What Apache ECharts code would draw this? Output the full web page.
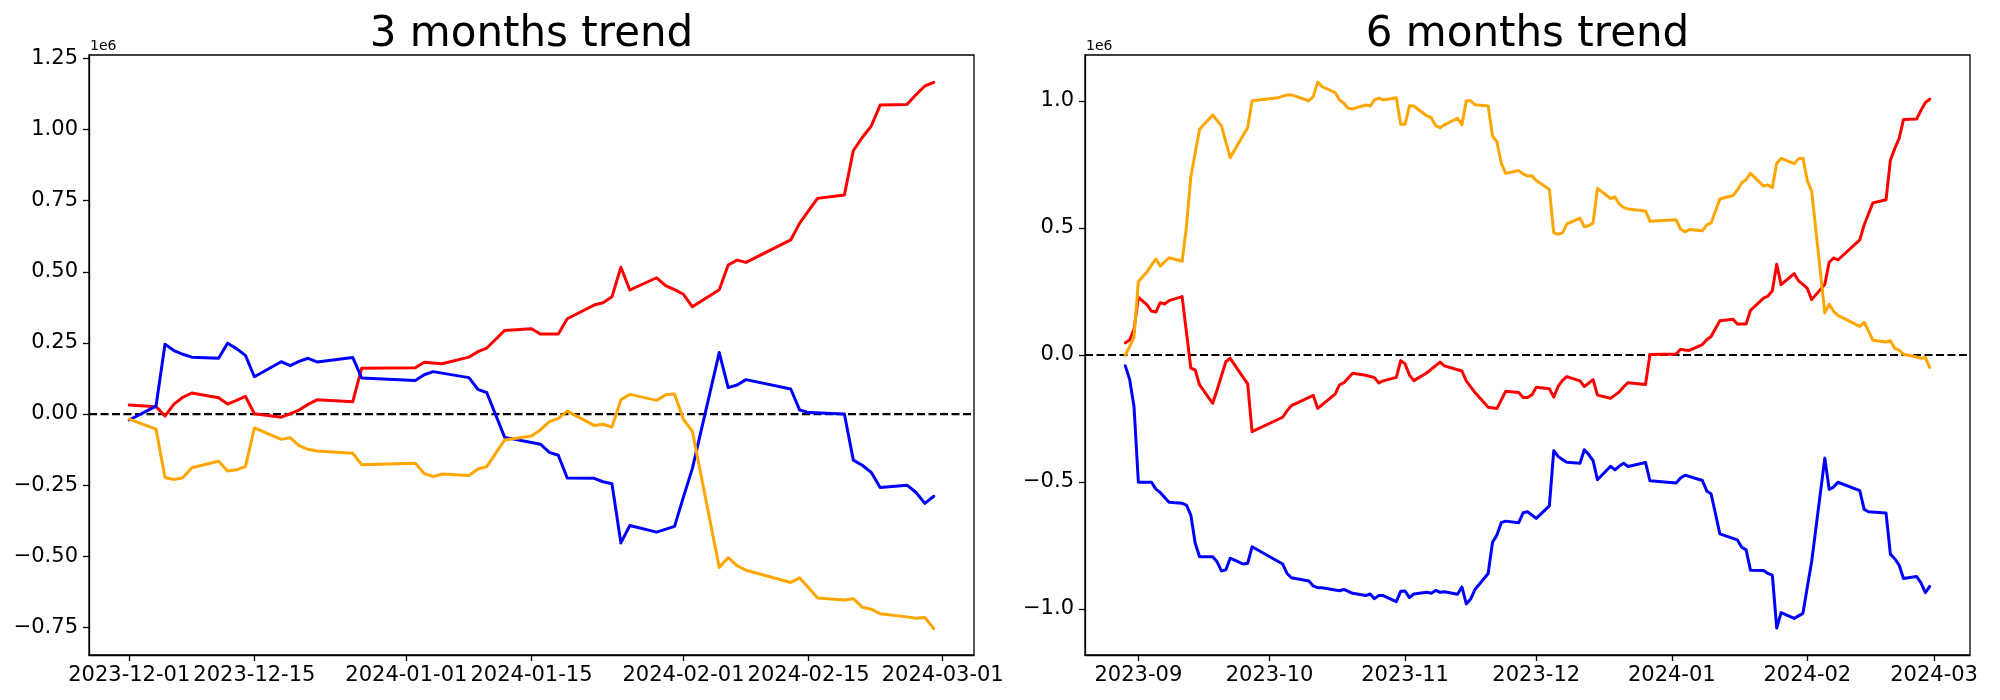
<!DOCTYPE html>
<html>
<head>
<meta charset="utf-8">
<script src="https://cdn.jsdelivr.net/npm/echarts@6/dist/echarts.min.js"></script>
<style>
html,body{margin:0;padding:0;background:#fff;}
#chart{width:2000px;height:700px;}
</style>
</head>
<body>
<div id="chart"></div>
<script>
// Values are in units of 1e6 (matching the "1e6" axis offset label)
const titles = ['3 months trend', '6 months trend'];
const offsetLabel = '1e6';

// ---- 3 months panel ----
const red3 = [['2023-12-01',0.032],['2023-12-04',0.026],['2023-12-05',-0.007],['2023-12-06',0.035],['2023-12-07',0.059],['2023-12-08',0.074],['2023-12-11',0.057],['2023-12-12',0.035],['2023-12-13',0.048],['2023-12-14',0.062],['2023-12-15',0.001],['2023-12-18',-0.011],['2023-12-19',0.001],['2023-12-20',0.014],['2023-12-21',0.034],['2023-12-22',0.050],['2023-12-26',0.043],['2023-12-27',0.161],['2024-01-02',0.163],['2024-01-03',0.182],['2024-01-04',0.179],['2024-01-05',0.177],['2024-01-08',0.200],['2024-01-09',0.219],['2024-01-10',0.232],['2024-01-11',0.263],['2024-01-12',0.294],['2024-01-15',0.300],['2024-01-16',0.281],['2024-01-18',0.281],['2024-01-19',0.335],['2024-01-22',0.383],['2024-01-23',0.391],['2024-01-24',0.412],['2024-01-25',0.516],['2024-01-26',0.436],['2024-01-29',0.479],['2024-01-30',0.451],['2024-01-31',0.437],['2024-02-01',0.421],['2024-02-02',0.377],['2024-02-05',0.437],['2024-02-06',0.524],['2024-02-07',0.541],['2024-02-08',0.533],['2024-02-13',0.612],['2024-02-14',0.671],['2024-02-15',0.715],['2024-02-16',0.758],['2024-02-19',0.770],['2024-02-20',0.926],['2024-02-21',0.972],['2024-02-22',1.012],['2024-02-23',1.086],['2024-02-26',1.088],['2024-02-27',1.122],['2024-02-28',1.153],['2024-02-29',1.166]];

const blue3 = [['2023-12-01',-0.021],['2023-12-04',0.028],['2023-12-05',0.245],['2023-12-06',0.223],['2023-12-07',0.210],['2023-12-08',0.200],['2023-12-11',0.196],['2023-12-12',0.249],['2023-12-13',0.230],['2023-12-14',0.206],['2023-12-15',0.131],['2023-12-18',0.184],['2023-12-19',0.170],['2023-12-20',0.185],['2023-12-21',0.196],['2023-12-22',0.183],['2023-12-26',0.199],['2023-12-27',0.127],['2024-01-02',0.118],['2024-01-03',0.138],['2024-01-04',0.149],['2024-01-08',0.128],['2024-01-09',0.087],['2024-01-10',0.075],['2024-01-12',-0.082],['2024-01-15',-0.100],['2024-01-16',-0.106],['2024-01-17',-0.135],['2024-01-18',-0.145],['2024-01-19',-0.225],['2024-01-22',-0.226],['2024-01-23',-0.238],['2024-01-24',-0.245],['2024-01-25',-0.453],['2024-01-26',-0.392],['2024-01-29',-0.415],['2024-01-31',-0.395],['2024-02-01',-0.291],['2024-02-02',-0.191],['2024-02-05',0.216],['2024-02-06',0.093],['2024-02-07',0.102],['2024-02-08',0.121],['2024-02-13',0.088],['2024-02-14',0.014],['2024-02-15',0.005],['2024-02-19',0.000],['2024-02-20',-0.162],['2024-02-21',-0.180],['2024-02-22',-0.205],['2024-02-23',-0.258],['2024-02-26',-0.250],['2024-02-27',-0.275],['2024-02-28',-0.314],['2024-02-29',-0.289]];

const orange3 = [['2023-12-01',-0.018],['2023-12-04',-0.053],['2023-12-05',-0.223],['2023-12-06',-0.230],['2023-12-07',-0.224],['2023-12-08',-0.189],['2023-12-11',-0.166],['2023-12-12',-0.200],['2023-12-13',-0.196],['2023-12-14',-0.185],['2023-12-15',-0.049],['2023-12-18',-0.089],['2023-12-19',-0.083],['2023-12-20',-0.111],['2023-12-21',-0.124],['2023-12-22',-0.130],['2023-12-26',-0.138],['2023-12-27',-0.178],['2024-01-02',-0.173],['2024-01-03',-0.209],['2024-01-04',-0.220],['2024-01-05',-0.211],['2024-01-08',-0.216],['2024-01-09',-0.193],['2024-01-10',-0.185],['2024-01-12',-0.091],['2024-01-15',-0.077],['2024-01-16',-0.056],['2024-01-17',-0.027],['2024-01-18',-0.015],['2024-01-19',0.010],['2024-01-22',-0.040],['2024-01-23',-0.036],['2024-01-24',-0.046],['2024-01-25',0.050],['2024-01-26',0.069],['2024-01-29',0.048],['2024-01-30',0.068],['2024-01-31',0.070],['2024-02-01',-0.019],['2024-02-02',-0.061],['2024-02-05',-0.539],['2024-02-06',-0.505],['2024-02-07',-0.533],['2024-02-08',-0.549],['2024-02-13',-0.592],['2024-02-14',-0.576],['2024-02-15',-0.611],['2024-02-16',-0.647],['2024-02-19',-0.654],['2024-02-20',-0.649],['2024-02-21',-0.679],['2024-02-22',-0.686],['2024-02-23',-0.702],['2024-02-26',-0.713],['2024-02-27',-0.718],['2024-02-28',-0.715],['2024-02-29',-0.754]];

// ---- 6 months panel ----
const red6 = [['2023-08-29',0.048],['2023-08-30',0.059],['2023-08-31',0.101],['2023-09-01',0.227],['2023-09-03',0.197],['2023-09-04',0.173],['2023-09-05',0.169],['2023-09-06',0.206],['2023-09-07',0.201],['2023-09-08',0.214],['2023-09-11',0.230],['2023-09-13',-0.052],['2023-09-14',-0.059],['2023-09-15',-0.118],['2023-09-18',-0.190],['2023-09-19',-0.138],['2023-09-21',-0.026],['2023-09-22',-0.013],['2023-09-25',-0.089],['2023-09-26',-0.114],['2023-09-27',-0.302],['2023-10-04',-0.245],['2023-10-05',-0.220],['2023-10-06',-0.199],['2023-10-11',-0.159],['2023-10-12',-0.210],['2023-10-16',-0.154],['2023-10-17',-0.118],['2023-10-18',-0.109],['2023-10-20',-0.072],['2023-10-23',-0.080],['2023-10-25',-0.089],['2023-10-26',-0.110],['2023-10-27',-0.102],['2023-10-30',-0.088],['2023-10-31',-0.022],['2023-11-01',-0.035],['2023-11-02',-0.079],['2023-11-03',-0.101],['2023-11-06',-0.070],['2023-11-08',-0.042],['2023-11-09',-0.028],['2023-11-10',-0.043],['2023-11-14',-0.063],['2023-11-15',-0.102],['2023-11-17',-0.148],['2023-11-20',-0.206],['2023-11-22',-0.211],['2023-11-24',-0.143],['2023-11-27',-0.148],['2023-11-28',-0.167],['2023-11-29',-0.167],['2023-11-30',-0.157],['2023-12-01',-0.127],['2023-12-04',-0.133],['2023-12-05',-0.166],['2023-12-06',-0.124],['2023-12-07',-0.100],['2023-12-08',-0.085],['2023-12-11',-0.102],['2023-12-12',-0.124],['2023-12-13',-0.111],['2023-12-14',-0.097],['2023-12-15',-0.158],['2023-12-18',-0.170],['2023-12-19',-0.158],['2023-12-20',-0.145],['2023-12-21',-0.125],['2023-12-22',-0.109],['2023-12-26',-0.116],['2023-12-27',0.002],['2024-01-02',0.004],['2024-01-03',0.023],['2024-01-04',0.020],['2024-01-05',0.018],['2024-01-08',0.041],['2024-01-09',0.060],['2024-01-10',0.073],['2024-01-11',0.104],['2024-01-12',0.135],['2024-01-15',0.141],['2024-01-16',0.122],['2024-01-18',0.122],['2024-01-19',0.176],['2024-01-22',0.224],['2024-01-23',0.232],['2024-01-24',0.253],['2024-01-25',0.357],['2024-01-26',0.277],['2024-01-29',0.320],['2024-01-30',0.292],['2024-01-31',0.278],['2024-02-01',0.262],['2024-02-02',0.218],['2024-02-05',0.278],['2024-02-06',0.365],['2024-02-07',0.382],['2024-02-08',0.374],['2024-02-13',0.453],['2024-02-14',0.512],['2024-02-15',0.556],['2024-02-16',0.599],['2024-02-19',0.611],['2024-02-20',0.767],['2024-02-21',0.813],['2024-02-22',0.853],['2024-02-23',0.927],['2024-02-26',0.929],['2024-02-27',0.963],['2024-02-28',0.994],['2024-02-29',1.007]];

const blue6 = [['2023-08-29',-0.042],['2023-08-30',-0.096],['2023-08-31',-0.203],['2023-09-01',-0.501],['2023-09-04',-0.501],['2023-09-05',-0.528],['2023-09-06',-0.541],['2023-09-08',-0.580],['2023-09-11',-0.584],['2023-09-12',-0.591],['2023-09-13',-0.630],['2023-09-14',-0.741],['2023-09-15',-0.794],['2023-09-18',-0.794],['2023-09-19',-0.814],['2023-09-20',-0.850],['2023-09-21',-0.846],['2023-09-22',-0.800],['2023-09-25',-0.823],['2023-09-26',-0.820],['2023-09-27',-0.755],['2023-10-04',-0.823],['2023-10-05',-0.860],['2023-10-06',-0.877],['2023-10-10',-0.890],['2023-10-11',-0.909],['2023-10-12',-0.916],['2023-10-13',-0.916],['2023-10-17',-0.928],['2023-10-18',-0.923],['2023-10-20',-0.938],['2023-10-23',-0.947],['2023-10-24',-0.941],['2023-10-25',-0.959],['2023-10-26',-0.947],['2023-10-27',-0.947],['2023-10-30',-0.971],['2023-10-31',-0.930],['2023-11-01',-0.929],['2023-11-02',-0.955],['2023-11-03',-0.941],['2023-11-06',-0.934],['2023-11-07',-0.938],['2023-11-08',-0.927],['2023-11-09',-0.934],['2023-11-10',-0.932],['2023-11-13',-0.942],['2023-11-14',-0.913],['2023-11-15',-0.980],['2023-11-16',-0.961],['2023-11-17',-0.923],['2023-11-20',-0.860],['2023-11-21',-0.737],['2023-11-22',-0.709],['2023-11-23',-0.660],['2023-11-24',-0.654],['2023-11-27',-0.660],['2023-11-28',-0.621],['2023-11-29',-0.617],['2023-11-30',-0.630],['2023-12-01',-0.643],['2023-12-04',-0.594],['2023-12-05',-0.377],['2023-12-06',-0.399],['2023-12-07',-0.412],['2023-12-08',-0.422],['2023-12-11',-0.426],['2023-12-12',-0.373],['2023-12-13',-0.392],['2023-12-14',-0.416],['2023-12-15',-0.491],['2023-12-18',-0.438],['2023-12-19',-0.452],['2023-12-20',-0.437],['2023-12-21',-0.426],['2023-12-22',-0.439],['2023-12-26',-0.423],['2023-12-27',-0.495],['2024-01-02',-0.504],['2024-01-03',-0.484],['2024-01-04',-0.473],['2024-01-08',-0.494],['2024-01-09',-0.535],['2024-01-10',-0.547],['2024-01-12',-0.704],['2024-01-15',-0.722],['2024-01-16',-0.728],['2024-01-17',-0.757],['2024-01-18',-0.767],['2024-01-19',-0.847],['2024-01-22',-0.848],['2024-01-23',-0.860],['2024-01-24',-0.867],['2024-01-25',-1.075],['2024-01-26',-1.014],['2024-01-29',-1.037],['2024-01-31',-1.017],['2024-02-01',-0.913],['2024-02-02',-0.813],['2024-02-05',-0.406],['2024-02-06',-0.529],['2024-02-07',-0.520],['2024-02-08',-0.501],['2024-02-13',-0.534],['2024-02-14',-0.608],['2024-02-15',-0.617],['2024-02-19',-0.622],['2024-02-20',-0.784],['2024-02-21',-0.802],['2024-02-22',-0.827],['2024-02-23',-0.880],['2024-02-26',-0.872],['2024-02-27',-0.897],['2024-02-28',-0.936],['2024-02-29',-0.911]];

const orange6 = [['2023-08-29',0.000],['2023-08-30',0.033],['2023-08-31',0.070],['2023-09-01',0.289],['2023-09-03',0.328],['2023-09-04',0.354],['2023-09-05',0.378],['2023-09-06',0.350],['2023-09-08',0.383],['2023-09-11',0.369],['2023-09-12',0.505],['2023-09-13',0.702],['2023-09-15',0.889],['2023-09-18',0.945],['2023-09-20',0.902],['2023-09-22',0.777],['2023-09-26',0.896],['2023-09-27',1.001],['2023-10-03',1.013],['2023-10-05',1.024],['2023-10-06',1.024],['2023-10-10',1.001],['2023-10-11',1.017],['2023-10-12',1.074],['2023-10-13',1.057],['2023-10-16',1.033],['2023-10-17',1.004],['2023-10-18',0.991],['2023-10-19',0.971],['2023-10-20',0.969],['2023-10-23',0.984],['2023-10-24',0.980],['2023-10-25',1.004],['2023-10-26',1.011],['2023-10-27',1.004],['2023-10-30',1.013],['2023-10-31',0.908],['2023-11-01',0.908],['2023-11-02',0.981],['2023-11-03',0.980],['2023-11-06',0.941],['2023-11-07',0.934],['2023-11-08',0.903],['2023-11-09',0.895],['2023-11-10',0.906],['2023-11-13',0.932],['2023-11-14',0.906],['2023-11-15',1.001],['2023-11-16',1.001],['2023-11-17',0.985],['2023-11-20',0.980],['2023-11-21',0.862],['2023-11-22',0.840],['2023-11-23',0.755],['2023-11-24',0.715],['2023-11-27',0.726],['2023-11-28',0.713],['2023-11-29',0.705],['2023-11-30',0.706],['2023-12-01',0.687],['2023-12-04',0.652],['2023-12-05',0.482],['2023-12-06',0.475],['2023-12-07',0.481],['2023-12-08',0.516],['2023-12-11',0.539],['2023-12-12',0.505],['2023-12-13',0.509],['2023-12-14',0.520],['2023-12-15',0.656],['2023-12-18',0.616],['2023-12-19',0.622],['2023-12-20',0.594],['2023-12-21',0.581],['2023-12-22',0.575],['2023-12-26',0.567],['2023-12-27',0.527],['2024-01-02',0.532],['2024-01-03',0.496],['2024-01-04',0.485],['2024-01-05',0.494],['2024-01-08',0.489],['2024-01-09',0.512],['2024-01-10',0.520],['2024-01-12',0.614],['2024-01-15',0.628],['2024-01-16',0.649],['2024-01-17',0.678],['2024-01-18',0.690],['2024-01-19',0.715],['2024-01-22',0.665],['2024-01-23',0.669],['2024-01-24',0.659],['2024-01-25',0.755],['2024-01-26',0.774],['2024-01-29',0.753],['2024-01-30',0.773],['2024-01-31',0.775],['2024-02-01',0.686],['2024-02-02',0.644],['2024-02-05',0.166],['2024-02-06',0.200],['2024-02-07',0.172],['2024-02-08',0.156],['2024-02-13',0.113],['2024-02-14',0.129],['2024-02-15',0.094],['2024-02-16',0.058],['2024-02-19',0.051],['2024-02-20',0.056],['2024-02-21',0.026],['2024-02-22',0.019],['2024-02-23',0.003],['2024-02-26',-0.008],['2024-02-27',-0.013],['2024-02-28',-0.010],['2024-02-29',-0.049]];

// tick labels
const xTicks3 = ['2023-12-01','2023-12-15','2024-01-01','2024-01-15','2024-02-01','2024-02-15','2024-03-01'];
const xTicks6 = ['2023-09-01','2023-10-01','2023-11-01','2023-12-01','2024-01-01','2024-02-01','2024-03-01'];
const yTicks3 = [-0.75,-0.5,-0.25,0,0.25,0.5,0.75,1.0,1.25];
const yTicks6 = [-1.0,-0.5,0,0.5,1.0];

// axis ranges (matplotlib autoscale with 5% margins)
const xRange3 = ['2023-11-26T12:00','2024-03-04T12:00'];
const xRange6 = ['2023-08-19T19:00','2024-03-09T05:00'];
const yRange3 = [-0.847, 1.262];
const yRange6 = [-1.181, 1.181];

const COLORS = {red:'#ff0000', blue:'#0000ff', orange:'#ffa500'};

function ts(s){
  const [datePart,timePart] = s.split('T');
  const [y,m,d] = datePart.split('-').map(Number);
  let hh=0,mm=0;
  if(timePart){ [hh,mm] = timePart.split(':').map(Number); }
  return Date.UTC(y,m-1,d,hh,mm);
}
const toPts = arr => arr.map(p => [ts(p[0]), p[1]]);
const pad = n => (n<10?'0':'')+n;

const FONT = 'DejaVu Sans';
const grids = [
  {left:89, top:55, width:885, height:600},
  {left:1085, top:55, width:885, height:600}
];

function xAxis(idx, ticks, range, fmt){
  const vals = ticks.map(ts);
  return {
    type:'value', gridIndex:idx, min:ts(range[0]), max:ts(range[1]), scale:true,
    axisLine:{show:true, onZero:false, lineStyle:{color:'#000', width:1.3}},
    axisTick:{show:true, customValues:vals, length:6, lineStyle:{color:'#000', width:1.3}},
    axisLabel:{show:true, customValues:vals, margin:10, color:'#000', fontSize:21, fontFamily:FONT,
      formatter: v => { const d=new Date(v); return fmt==='day' ? d.getUTCFullYear()+'-'+pad(d.getUTCMonth()+1)+'-'+pad(d.getUTCDate()) : d.getUTCFullYear()+'-'+pad(d.getUTCMonth()+1); },
      hideOverlap:false, showMinLabel:true, showMaxLabel:true},
    splitLine:{show:false}
  };
}
function yAxis(idx, ticks, range, dec){
  return {
    type:'value', gridIndex:idx, min:range[0], max:range[1],
    axisLine:{show:true, onZero:false, lineStyle:{color:'#000', width:1.3}},
    axisTick:{show:true, customValues:ticks, length:6, lineStyle:{color:'#000', width:1.3}},
    axisLabel:{show:true, customValues:ticks, margin:11, color:'#000', fontSize:21, fontFamily:FONT,
      formatter: v => { const r = Math.round(v*100)/100; const s = Math.abs(r).toFixed(dec); return (r<0?'\u2212':'')+s; }},
    splitLine:{show:false}
  };
}

function lineSeries(idx, data, color){
  return {type:'line', xAxisIndex:idx, yAxisIndex:idx, data:toPts(data), showSymbol:false, symbol:'none',
    lineStyle:{color:color, width:3, join:'round', cap:'round'}, itemStyle:{color:color}, z:3, animation:false};
}
function zeroLine(idx, range){
  return {type:'line', xAxisIndex:idx, yAxisIndex:idx, data:[[ts(range[0]),0],[ts(range[1]),0]], showSymbol:false, symbol:'none', z:2, animation:false,
    lineStyle:{color:'#000', type:[8,3.5], width:2.2}};
}

const chart = echarts.init(document.getElementById('chart'), null, {renderer:'canvas'});
chart.setOption({
  backgroundColor:'#fff',
  animation:false,
  grid: grids.map(g => Object.assign({show:true, borderColor:'#000', borderWidth:1.3, containLabel:false}, g)),
  xAxis:[xAxis(0, xTicks3, xRange3, 'day'), xAxis(1, xTicks6, xRange6, 'month')],
  yAxis:[yAxis(0, yTicks3, yRange3, 2), yAxis(1, yTicks6, yRange6, 1)],
  series:[
    zeroLine(0, xRange3),
    lineSeries(0, red3, COLORS.red), lineSeries(0, blue3, COLORS.blue), lineSeries(0, orange3, COLORS.orange),
    zeroLine(1, xRange6),
    lineSeries(1, red6, COLORS.red), lineSeries(1, blue6, COLORS.blue), lineSeries(1, orange6, COLORS.orange)
  ],
  graphic:[
    {type:'text', x:89+885/2, y:35, style:{text:titles[0], font:'42px "DejaVu Sans"', fill:'#000', align:'center', verticalAlign:'middle'}},
    {type:'text', x:1085+885/2, y:35, style:{text:titles[1], font:'42px "DejaVu Sans"', fill:'#000', align:'center', verticalAlign:'middle'}},
    {type:'text', x:90, y:53, style:{text:offsetLabel, font:'14px "DejaVu Sans"', fill:'#000', align:'left', verticalAlign:'bottom'}},
    {type:'text', x:1086, y:53, style:{text:offsetLabel, font:'14px "DejaVu Sans"', fill:'#000', align:'left', verticalAlign:'bottom'}}
  ]
});
</script>
</body>
</html>
